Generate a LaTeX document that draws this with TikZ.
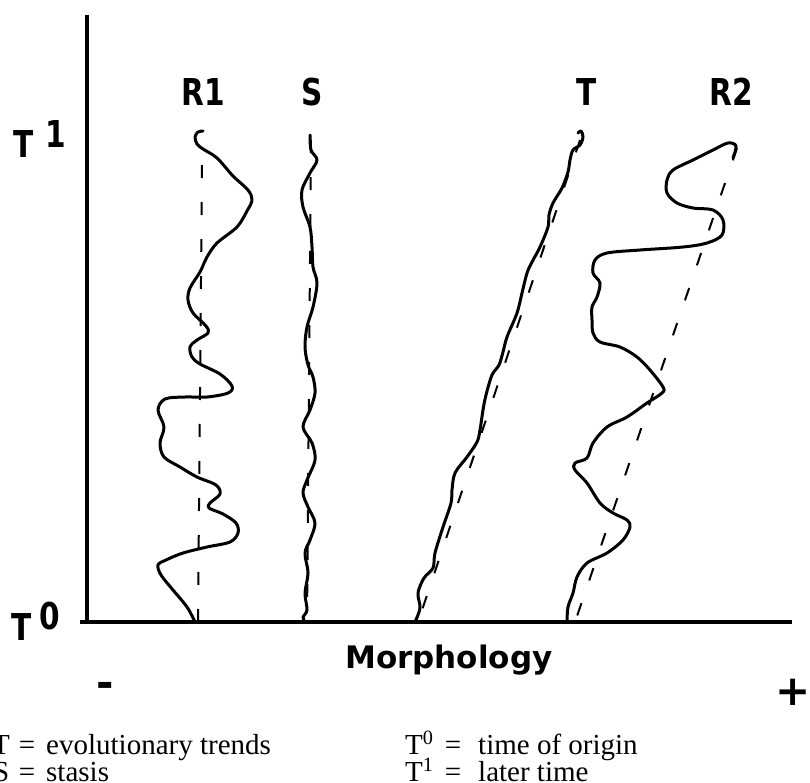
\documentclass[tikz,border=0pt]{standalone}
\usepackage{fontspec}
\newfontfamily\lblfont{DejaVu Sans Bold}[FakeStretch=0.8]
\newfontfamily\morphfont{DejaVu Sans Bold}
\newfontfamily\legfont{Liberation Serif}
\begin{document}
\begin{tikzpicture}[x=1pt,y=-1pt,
  curve/.style={line width=3pt, line join=round, line cap=round},
  guide/.style={line width=2pt, dash pattern=on 13pt off 24pt},
  axisline/.style={line width=3.4pt},
  lbl/.style={font=\lblfont\fontsize{37}{42}\selectfont, inner sep=0pt},
  sign/.style={font=\morphfont\fontsize{42}{48}\selectfont, inner sep=0pt},
  morph/.style={font=\morphfont\fontsize{31}{36}\selectfont, inner sep=0pt},
  leg/.style={font=\legfont\fontsize{29}{34}\selectfont, inner sep=0pt}]
\useasboundingbox (0,0) rectangle (810,782);

% axes
\coordinate (top) at (87,15);
\coordinate (orig) at (87,622);
\coordinate (left) at (80,622);
\coordinate (right) at (792,622);
\draw[axisline] (top) -- (orig);
\draw[axisline] (left) -- (right);

% dashed guide lines
\draw[guide] (202,165) -- (198,622);
\draw[guide] (311,140) -- (307,622);
\draw[guide] (580,140) -- (418,622);
\draw[guide] (737,148) -- (575,622);

% R1
\draw[curve] plot[smooth, tension=0.55] coordinates {
(203,131) (198,132) (195,137) (197,144) (203,149) (217,158) (233,176) (248,190) (252,200) (247,211)
(237,227) (217,243) (207,257) (200,272) (190,288) (188,300) (193,313) (206,326) (208,333) (197,340)
(190,347) (192,357) (200,364) (220,374) (232,386) (228,393) (207,397) (185,397) (165,399) (158,410)
(164,427) (160,443) (164,457) (180,467) (197,477) (216,485) (220,494) (210,503) (209,508) (223,514)
(236,523) (238,533) (230,542) (207,547) (183,553) (166,560) (158,565) (161,575) (173,590) (187,607)
(195,622)};

% S
\draw[curve] plot[smooth, tension=0.55] coordinates {
(310,135) (311,150) (317,160) (310,173) (302,190) (303,207) (310,227) (312,247) (313,267) (317,283)
(313,307) (307,327) (305,347) (308,365) (313,377) (315,393) (310,410) (303,427) (312,443) (315,460)
(307,480) (303,493) (308,507) (315,523) (310,540) (305,553) (308,573) (305,593) (307,610) (303,617)
(305,622)};

% T
\draw[curve] plot[smooth, tension=0.55] coordinates {
(578,133) (581,131) (583,137) (580,145) (573,150) (570,160) (568,172) (562,188) (553,203) (549,215)
(548,227) (540,247) (532,262) (527,273) (522,293) (517,313) (507,337) (503,352) (499,365) (492,375)
(486,395) (483,410) (480,430) (477,442) (467,457) (455,473) (452,490) (451,503) (443,527) (435,553)
(433,568) (424,578) (418,593) (420,608) (415,622)};

% R2
\draw[curve] plot[smooth, tension=0.55] coordinates {
(733,158) (736,146) (728,143) (713,150) (693,160) (673,170) (667,180) (667,193) (677,203) (693,208)
(713,210) (723,220) (722,235) (707,243) (683,247) (640,250) (607,253) (595,260) (593,273) (600,283)
(597,297) (592,307) (592,320) (593,333) (600,342) (620,347) (637,357) (650,370) (663,387) (662,393)
(647,403) (627,417) (607,427) (593,443) (587,458) (575,463) (575,470) (587,483) (600,503) (613,513)
(627,520) (630,527) (623,540) (607,553) (587,563) (577,577) (573,593) (568,607) (567,622)};

% labels
\node[lbl, anchor=base] (lR1) at (203,105) {R1};
\node[lbl, anchor=base] (lS) at (312,105) {S};
\node[lbl, anchor=base] (lT) at (587,105) {T};
\node[lbl, anchor=base] (lR2) at (731,105) {R2};
\node[lbl, anchor=base west] (lT1) at (13,157) {T\hspace{12pt}\raisebox{10pt}{1}};
\node[lbl, anchor=base west] (lT0) at (11,640) {T\hspace{8pt}\raisebox{11pt}{0}};
\node[morph, anchor=base west] (lmorph) at (345,668) {Morphology};
\node[sign, anchor=center] (lminus) at (105,690) {-};
\node[sign, anchor=center] (lplus) at (793,692) {+};

% legend
\node[leg, anchor=base west] (k1a) at (-8,754) {T};
\node[leg, anchor=base] (k1b) at (27,754) {=};
\node[leg, anchor=base west] (k1c) at (46,754) {evolutionary trends};
\node[leg, anchor=base west] (k2a) at (-7,781) {S};
\node[leg, anchor=base] (k2b) at (27,781) {=};
\node[leg, anchor=base west] (k2c) at (46,781) {stasis};
\node[leg, anchor=base west] (k3a) at (405,754) {T\textsuperscript{0}};
\node[leg, anchor=base] (k3b) at (453,754) {=};
\node[leg, anchor=base west] (k3c) at (478,754) {time of origin};
\node[leg, anchor=base west] (k4a) at (405,781) {T\textsuperscript{1}};
\node[leg, anchor=base] (k4b) at (453,781) {=};
\node[leg, anchor=base west] (k4c) at (478,781) {later time};
\end{tikzpicture}
\end{document}
